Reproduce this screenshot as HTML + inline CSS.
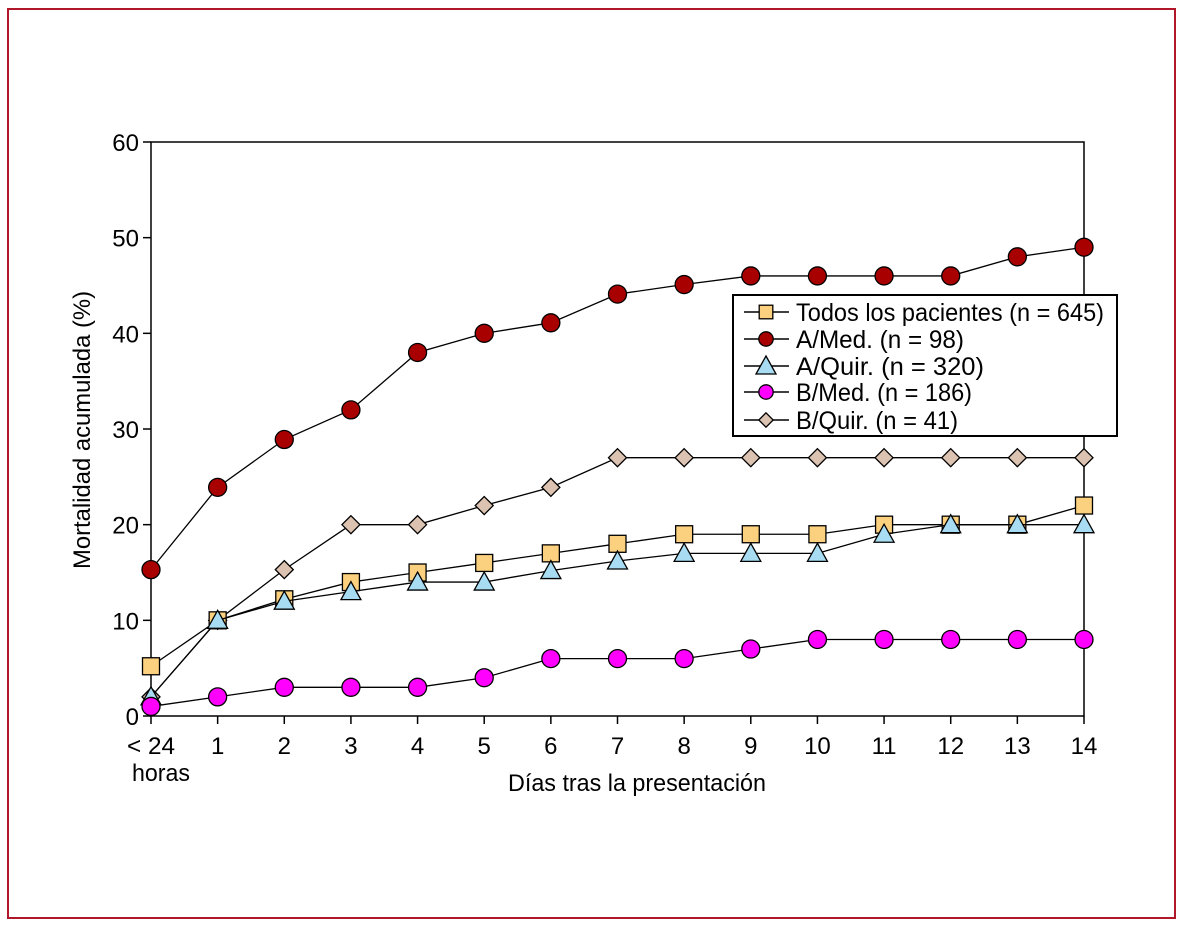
<!DOCTYPE html>
<html><head><meta charset="utf-8"><style>
html,body{margin:0;padding:0;background:#fff;}
svg{display:block;font-family:"Liberation Sans",sans-serif;}
</style></head><body>
<svg id="chart" width="1183" height="929" viewBox="0 0 1183 929">
<rect x="8" y="9" width="1167" height="909" fill="#fff" stroke="#b0182a" stroke-width="2"/>
<rect x="151" y="142" width="933" height="574" fill="none" stroke="#000" stroke-width="1.5"/>
<g id="axes"></g>
<g id="series"></g>
<text x="637" y="791" font-size="24" text-anchor="middle" textLength="258" lengthAdjust="spacingAndGlyphs">Días tras la presentación</text>
<text transform="translate(90,430) rotate(-90)" font-size="24" text-anchor="middle" textLength="278" lengthAdjust="spacingAndGlyphs">Mortalidad acumulada (%)</text>
<g>
<rect x="733" y="295" width="384" height="141" fill="#fff" stroke="#000" stroke-width="2"/>
<g id="legend"></g>
</g>
</svg>
<script>
const categories = ["< 24", "1","2","3","4","5","6","7","8","9","10","11","12","13","14"];
const yTicks = [0,10,20,30,40,50,60];
const seriesNames = ["Todos los pacientes (n = 645)","A/Med. (n = 98)","A/Quir. (n = 320)","B/Med. (n = 186)","B/Quir. (n = 41)"];
const todos = [5.2,10,12.2,14,15,16,17,18,19,19,19,20,20,20,22];
const aMed = [15.3,23.9,28.9,32,38,40,41.1,44.1,45.1,46,46,46,46,48,49];
const aQuir = [2,10,12,13,14,14,15.2,16.2,17,17,17,19,20,20,20];
const bMed = [1,2,3,3,3,4,6,6,6,7,8,8,8,8,8];
const bQuir = [2,10,15.3,20,20,22,23.9,27,27,27,27,27,27,27,27];

const NS="http://www.w3.org/2000/svg";
const X0=151,X1=1084,Y0=716,Y1=142;
const x=i=>X0+(X1-X0)*i/(categories.length-1);
const y=v=>Y0-(Y0-Y1)*v/60;
function mk(tag,attrs,parent){const e=document.createElementNS(NS,tag);for(const k in attrs)e.setAttribute(k,attrs[k]);parent.appendChild(e);return e;}
const axes=document.getElementById('axes');
yTicks.forEach(v=>{
  const t=mk('line',{x1:X0-8,x2:X0,y1:y(v),y2:y(v),stroke:'#000','stroke-width':1.5},axes);
  
  
  const l=mk('text',{x:X0-12,y:y(v)+9,'font-size':24,'text-anchor':'end'},axes);
  
  
  l.textContent=v;
});
categories.forEach((c,i)=>{
  const t=mk('line',{x1:x(i),x2:x(i),y1:Y0,y2:Y0+8,stroke:'#000','stroke-width':1.5},axes);
  
  
  const l=mk('text',{x:x(i),y:754,'font-size':24,'text-anchor':'middle'},axes);
  
  
  l.textContent=c;
  if(i===0){l.setAttribute('textLength','48');l.setAttribute('lengthAdjust','spacingAndGlyphs');}
});
const h=mk('text',{x:x(0)+10,y:781,'font-size':24,'text-anchor':'middle',textLength:58,lengthAdjust:'spacingAndGlyphs'},axes);


h.textContent='horas';

function marker(type,cx,cy,g,s){
  s=s||1;let e;
  if(type==='square') e=mk('rect',{x:cx-8.5*s,y:cy-8.5*s,width:17*s,height:17*s,fill:'#fbd07e',stroke:'#000','stroke-width':1.3},g);
  else if(type==='circle') e=mk('circle',{cx:cx,cy:cy,r:9*s,fill:'#a80000',stroke:'#000','stroke-width':1.3},g);
  else if(type==='tri') e=mk('polygon',{points:`${cx},${cy-10*s} ${cx+10*s},${cy+8*s} ${cx-10*s},${cy+8*s}`,fill:'#a8dcf2',stroke:'#000','stroke-width':1.3},g);
  else if(type==='mcircle') e=mk('circle',{cx:cx,cy:cy,r:9*s,fill:'#ff00ff',stroke:'#000','stroke-width':1.3},g);
  else e=mk('polygon',{points:`${cx},${cy-9*s} ${cx+9*s},${cy} ${cx},${cy+9*s} ${cx-9*s},${cy}`,fill:'#dcc2b0',stroke:'#000','stroke-width':1.3},g);
  return e;
}
const seriesList=[[bQuir,'diamond','b-quir'],[todos,'square','todos'],[aQuir,'tri','a-quir'],[bMed,'mcircle','b-med'],[aMed,'circle','a-med']];
const sg=document.getElementById('series');
seriesList.forEach(([d,type,name])=>{
  const g=mk('g',{},sg);
  
  
  const p=mk('polyline',{points:d.map((v,i)=>x(i)+','+y(v)).join(' '),fill:'none',stroke:'#000','stroke-width':1.3},g);
  
  
  d.forEach((v,i)=>{
    const m=marker(type,x(i),y(v),g);
    
    
  });
});
const lg=document.getElementById('legend');
const ltypes=['square','circle','tri','mcircle','diamond'];
const lrows=[312,339,366,392,420];
const lw=[308,168,188,176,162];
seriesNames.forEach((n,i)=>{
  const g=mk('g',{},lg);
  
  
  mk('line',{x1:744,x2:789,y1:lrows[i],y2:lrows[i],stroke:'#000','stroke-width':1.5},g);
  marker(ltypes[i],766,lrows[i],g,ltypes[i]==='tri'?1:0.8);
  const t=mk('text',{x:796,y:lrows[i]+9,'font-size':25,textLength:lw[i],lengthAdjust:'spacingAndGlyphs'},g);
  
  
  t.textContent=n;
});
</script>
</body></html>
